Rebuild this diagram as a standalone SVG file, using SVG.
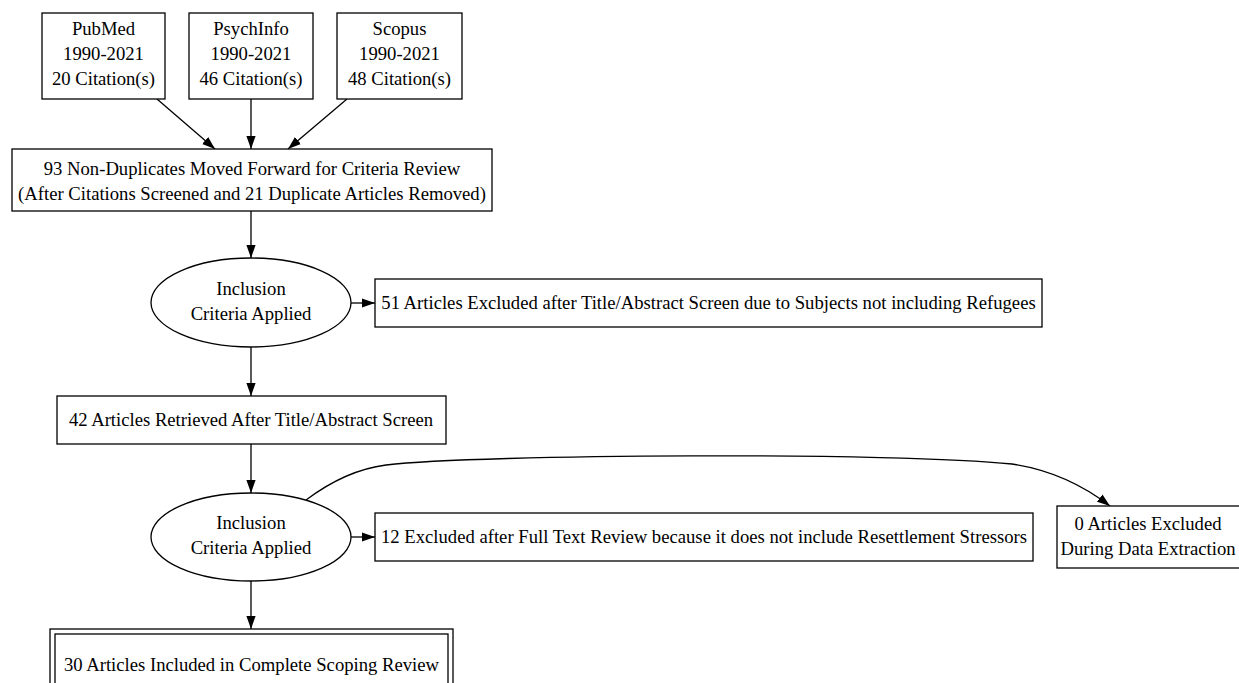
<svg xmlns="http://www.w3.org/2000/svg" width="1239" height="683" viewBox="0 0 1239 683">
<style>
text{font-family:"Liberation Serif","Times New Roman",serif;font-size:18.67px;fill:#000;text-anchor:middle}
.n{fill:#fff;stroke:#000;stroke-width:1.3}
.e{fill:none;stroke:#000;stroke-width:1.3}
</style>
<defs>
<marker id="ah" markerWidth="13" markerHeight="10" refX="13" refY="5" orient="auto" markerUnits="userSpaceOnUse">
<path d="M0,0.4 L13,5 L0,9.6 Z" fill="#000"/>
</marker>
</defs>
<rect width="1239" height="683" fill="#fff"/>
<g id="edges">
<path class="e" d="M157,99 L215,149" marker-end="url(#ah)"/>
<path class="e" d="M251,99 L251,149" marker-end="url(#ah)"/>
<path class="e" d="M347,99 L288,149" marker-end="url(#ah)"/>
<path class="e" d="M251,211 L251,258" marker-end="url(#ah)"/>
<path class="e" d="M351,303 L375,303" marker-end="url(#ah)"/>
<path class="e" d="M251,347 L251,396" marker-end="url(#ah)"/>
<path class="e" d="M251,444 L251,493" marker-end="url(#ah)"/>
<path class="e" d="M351,537 L375,537" marker-end="url(#ah)"/>
<path class="e" d="M251,581 L251,629" marker-end="url(#ah)"/>
<path class="e" d="M306,500 C330,482 355,469 386,465 C480,454 900,452 1012,464 C1052,470 1084,486 1110,506" marker-end="url(#ah)"/>
</g>
<g id="pubmed">
<rect class="n" x="42" y="13" width="123" height="86"/>
<text x="103.5" y="35">PubMed</text>
<text x="103.5" y="60">1990-2021</text>
<text x="103.5" y="85">20 Citation(s)</text>
</g>
<g id="psychinfo">
<rect class="n" x="189" y="13" width="124" height="86"/>
<text x="251" y="35">PsychInfo</text>
<text x="251" y="60">1990-2021</text>
<text x="251" y="85">46 Citation(s)</text>
</g>
<g id="scopus">
<rect class="n" x="337" y="13" width="125" height="86"/>
<text x="399.5" y="35">Scopus</text>
<text x="399.5" y="60">1990-2021</text>
<text x="399.5" y="85">48 Citation(s)</text>
</g>
<g id="nondup">
<rect class="n" x="12" y="149" width="480" height="62"/>
<text x="252" y="175">93 Non-Duplicates Moved Forward for Criteria Review</text>
<text x="252" y="200">(After Citations Screened and 21 Duplicate Articles Removed)</text>
</g>
<g id="incl1">
<ellipse class="n" cx="251" cy="302.5" rx="100" ry="44.5"/>
<text x="251" y="295">Inclusion</text>
<text x="251" y="320">Criteria Applied</text>
</g>
<g id="excl51">
<rect class="n" x="375" y="279" width="667" height="48"/>
<text x="708.5" y="309">51 Articles Excluded after Title/Abstract Screen due to Subjects not including Refugees</text>
</g>
<g id="ret42">
<rect class="n" x="57" y="396" width="389" height="48"/>
<text x="251" y="426">42 Articles Retrieved After Title/Abstract Screen</text>
</g>
<g id="incl2">
<ellipse class="n" cx="251" cy="537" rx="100" ry="44"/>
<text x="251" y="529">Inclusion</text>
<text x="251" y="554">Criteria Applied</text>
</g>
<g id="excl12">
<rect class="n" x="375" y="513" width="658" height="48"/>
<text x="704" y="543">12 Excluded after Full Text Review because it does not include Resettlement Stressors</text>
</g>
<g id="excl0">
<rect class="n" x="1057" y="506" width="196" height="62"/>
<text x="1148" y="530">0 Articles Excluded</text>
<text x="1148" y="555">During Data Extraction</text>
</g>
<g id="final">
<rect class="n" x="50" y="629" width="403" height="70"/>
<rect class="n" x="55" y="634" width="393" height="60"/>
<text x="251.5" y="671">30 Articles Included in Complete Scoping Review</text>
</g>
</svg>
